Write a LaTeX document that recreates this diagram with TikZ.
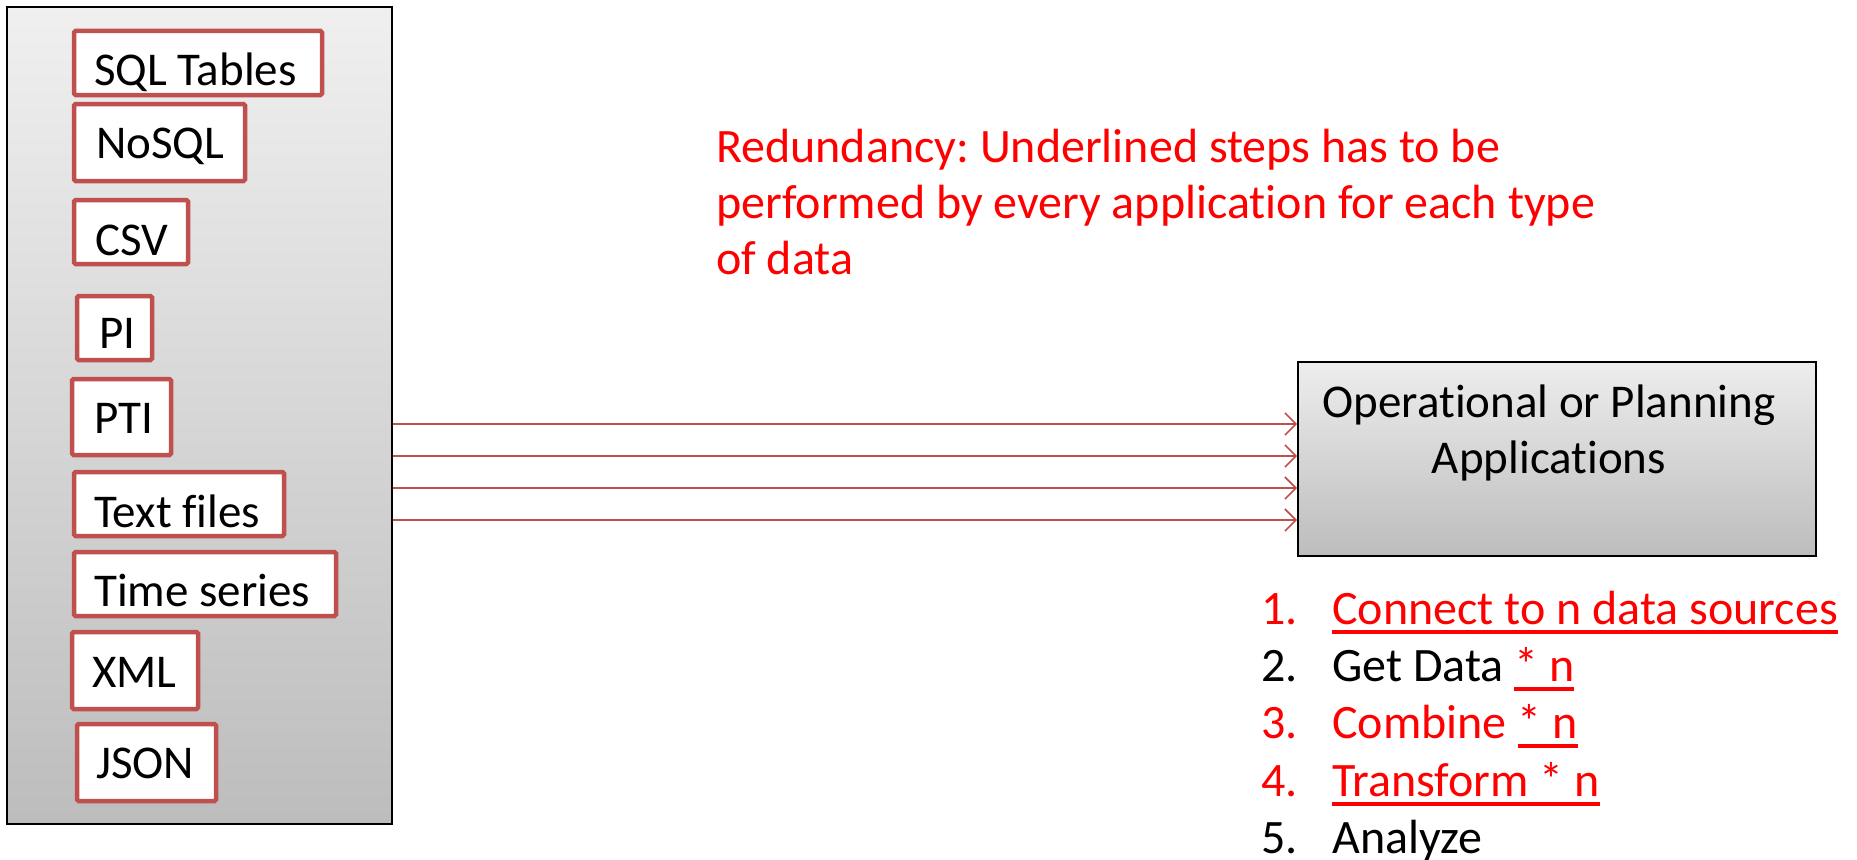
\documentclass[tikz,border=0pt]{standalone}
\usepackage{fontspec}
\setmainfont{Carlito}[Ligatures=NoCommon]
\frenchspacing
\usetikzlibrary{arrows.meta,fit}
\definecolor{frame}{HTML}{C0504D}
\definecolor{alert}{HTML}{FF0000}
% underline drawn under a piece of text
\newsavebox{\ulbox}
\newcommand{\stepline}[1]{\sbox{\ulbox}{#1}\rlap{\rule[-9.5pt]{\wd\ulbox}{3.3pt}}\usebox{\ulbox}}

\begin{document}
\begin{tikzpicture}[x=1pt,y=-1pt,
  txt/.style={font=\fontsize{47}{56}\selectfont, inner sep=0pt, anchor=base west},
  bigtxt/.style={txt, font=\fontsize{48}{56}\selectfont},
  panel/.style={draw=black, line width=2pt, top color=black!6, bottom color=black!26, inner sep=0pt},
  srcbox/.style={draw=frame, fill=white, line width=4.5pt, rounded corners=1.5pt, inner sep=0pt},
  flow/.style={draw=frame, line width=1.8pt, -{Straight Barb[length=11pt,width=22pt,line width=1.6pt]}}
]
\useasboundingbox (0,0) rectangle (1857,859);

% data sources panel
\node[panel, fit={(7,7) (392,824)}] (src) {};

% source type boxes
\node[srcbox, fit={(74,31) (322,95)}]   (sql)  {};
\node[txt] at (94,85)  {SQL Tables};
\node[srcbox, fit={(74,104) (245,181)}] (nosql) {};
\node[txt] at (96,158) {NoSQL};
\node[srcbox, fit={(74,200) (188,264)}] (csv)  {};
\node[txt] at (95,255) {CSV};
\node[srcbox, fit={(77,296) (152,360)}] (pi)   {};
\node[txt] at (99,348) {PI};
\node[srcbox, fit={(72,379) (171,455)}] (pti)  {};
\node[txt] at (94,433) {PTI};
\node[srcbox, fit={(74,472) (284,536)}] (txtf) {};
\node[txt] at (94,527) {Text files};
\node[srcbox, fit={(74,552) (336,616)}] (ts)   {};
\node[txt] at (94,606) {Time series};
\node[srcbox, fit={(72,632) (198,709)}] (xml)  {};
\node[txt] at (92,687) {XML};
\node[srcbox, fit={(77,724) (216,801)}] (json) {};
\node[txt] at (96,778) {JSON};

% applications box
\node[panel, top color=black!7, bottom color=black!26, fit={(1298,362) (1816,556)}] (app) {};
\node[txt, anchor=base] at (1549,417) {Operational or Planning};
\node[txt, anchor=base] at (1549,473) {Applications};

% one connection per data feed
\coordinate (f1) at (src.east |- 0,424);
\coordinate (f2) at (src.east |- 0,456);
\coordinate (f3) at (src.east |- 0,488);
\coordinate (f4) at (src.east |- 0,520);
\foreach \f in {f1,f2,f3,f4}
  \draw[flow] (\f) -- (\f -| app.west);

% remark (anchored on the baseline of its last line)
\node[bigtxt, text=alert, align=left] (note) at (716,274)
  {Redundancy: Underlined steps has to be\\performed by every application for each type\\of data};

% processing steps
\node[bigtxt, text=alert] (n1) at (1261,624) {1.};
\node[bigtxt, text=alert] (s1) at (1332,624) {\stepline{Connect to n data sources}};
\node[bigtxt] (n2) at (1261,681) {2.};
\node[bigtxt] (s2) at (1332,681) {Get Data \textcolor{alert}{\stepline{* n}}};
\node[bigtxt, text=alert] (n3) at (1261,738) {3.};
\node[bigtxt, text=alert] (s3) at (1332,738) {Combine \stepline{* n}};
\node[bigtxt, text=alert] (n4) at (1261,796) {4.};
\node[bigtxt, text=alert] (s4) at (1332,796) {\stepline{Transform * n}};
\node[bigtxt] (n5) at (1261,853) {5.};
\node[bigtxt] (s5) at (1332,853) {Analyze};
\end{tikzpicture}
\end{document}
